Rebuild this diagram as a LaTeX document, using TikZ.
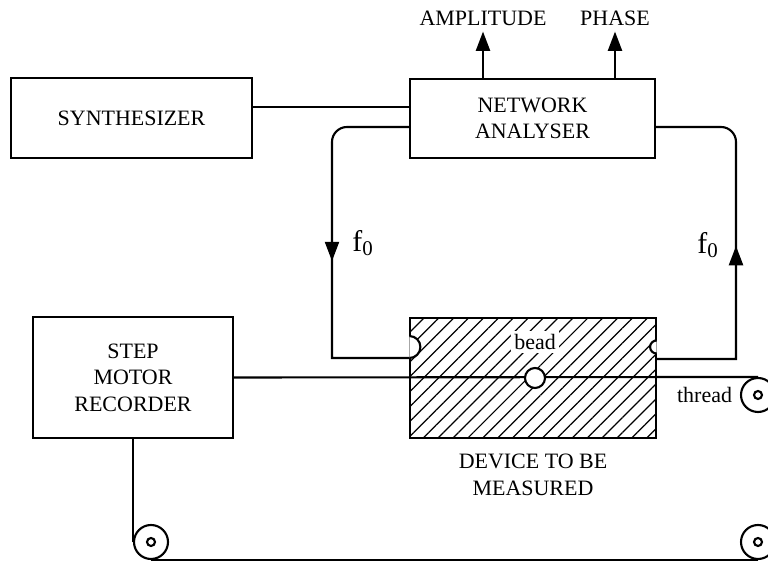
\documentclass[tikz,border=0pt]{standalone}
\usepackage{fontspec}
\setmainfont{Liberation Serif}
\usetikzlibrary{arrows.meta,patterns.meta,decorations.markings}

\begin{document}
\begin{tikzpicture}[x=.02cm,y=-.02cm,>={Triangle[width=8pt,length=11pt]},
 font=\fontsize{12.5}{15}\selectfont,
 box/.style={draw,line width=1.2pt,align=center,inner sep=0pt},
 wire/.style={line width=1.2pt},
 pulley/.style={circle,draw,line width=1.2pt,fill=white,minimum size=.68cm,inner sep=0pt,
  path picture={\draw[line width=1.2pt] (path picture bounding box.center) circle (.08cm);}},
 flow/.style={postaction={decorate},decoration={markings,mark=at position #1 with {\arrow{>}}}}]
 \useasboundingbox (0,0) rectangle (768,563);
 \node[box,minimum width=4.82cm,minimum height=1.6cm] (synth) at (131.5,118) {SYNTHESIZER};
 \node[box,minimum width=4.9cm,minimum height=1.58cm] (na) at (532.5,118.5) {NETWORK\\ANALYSER};
 \node[box,minimum width=4cm,minimum height=2.42cm] (rec) at (133,377.5) {STEP\\MOTOR\\RECORDER};
 \node[box,minimum width=4.92cm,minimum height=2.4cm,
  pattern={Lines[angle=45,distance=6pt,line width=.7pt]}] (dev) at (533,378) {};
 \node[align=center] (devlbl) at (533,475) {DEVICE TO BE\\MEASURED};
 \node (amp) at (483,18) {AMPLITUDE};
 \node (ph) at (615,18) {PHASE};
 \node[pulley] (p1) at (758,395) {};
 \node[pulley] (p2) at (151,542) {};
 \node[pulley] (p3) at (758,542) {};
 \node[left=1pt] (thr) at (p1.west) {thread};
 \node[font=\fontsize{17}{19}\selectfont] (f0l) at (363,243) {f\textsubscript{0}};
 \node[font=\fontsize{17}{19}\selectfont] (f0r) at (708,245) {f\textsubscript{0}};
 \draw[wire,->] (na.north -| amp) -- (amp);
 \draw[wire,->] (na.north -| ph) -- (ph);
 \draw[wire] ([yshift=.22cm]synth.east) -- ([yshift=.22cm]synth.east -| na.west);
 \draw[wire,flow=.54] ([yshift=-.17cm]na.west) [rounded corners=.3cm] -| (332,300)
  [sharp corners] |- ([yshift=.4cm]dev.west);
 \draw[wire,flow=.5] ([yshift=.38cm]dev.east) -| (736,300)
  [rounded corners=.3cm] |- ([yshift=-.17cm]na.east);
 \draw[wire] (rec.east) -- (p1.north);
 \draw[wire] (rec.south -| p2.west) -- (p2.west);
 \draw[wire] (p2.south) -- (p3.south);
 \node[circle,draw,line width=1.2pt,fill=white,minimum size=.4cm,inner sep=0pt] (bead) at (535,378) {};
 \node[fill=white,inner sep=2pt] (beadlbl) at (535,342) {bead};
 \draw[wire,fill=white] ([yshift=.84cm]dev.west) arc[start angle=90,end angle=-90,radius=.22cm];
 \draw[wire,fill=white] ([yshift=.75cm]dev.east) arc[start angle=90,end angle=270,radius=.13cm];
\end{tikzpicture}
\end{document}
